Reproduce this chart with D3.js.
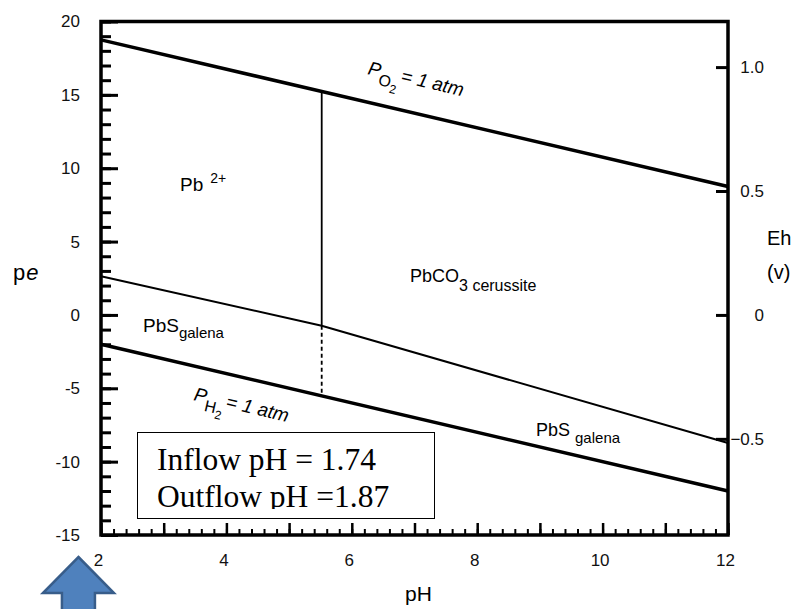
<!DOCTYPE html>
<html>
<head>
<meta charset="utf-8">
<script src="https://cdn.jsdelivr.net/npm/d3@7"></script>
<style>
  body { margin: 0; background: #fff; }
  svg { display: block; font-family: "Liberation Sans", Arial, sans-serif; }
</style>
</head>
<body>
<svg width="798" height="609"></svg>
<script>
// values for lead (Pb-S-C-O-H system)
var pHTicks = [2, 4, 6, 8, 10, 12];
var peTicks = [-15, -10, -5, 0, 5, 10, 15, 20];
var ehTicks = [-0.5, 0, 0.5, 1.0];

// water stability limits
var o2PH = [2, 12];
var o2Pe = [18.75, 8.75];
var h2PH = [2, 12];
var h2Pe = [-2, -12];

// galena boundary (bends where it meets the Pb2+ / cerussite line)
var galenaPH = [2, 5.52, 12];
var galenaPe = [2.64, -0.74, -8.73];

// Pb2+ / PbCO3 boundary: solid above galena line, dashed below
var cerussitePH = 5.52;
var cerussitePe = [15.23, -0.74, -5.52];

var noteLines = ["Inflow pH = 1.74", "Outflow pH =1.87"];
var arrowPH = 1.64;
var ehPerPe = 0.0592;

// plot box in pixels (note: "top" is reserved on window, so use plot*)
var svg = d3.select("svg"),
  plotLeft = 101, plotRight = 728, plotTop = 21.5, plotBottom = 535;

var x = d3.scaleLinear().domain([2, 12]).range([plotLeft, plotRight]);
var y = d3.scaleLinear().domain([-15, 20]).range([plotBottom, plotTop]);
var yEh = d3.scaleLinear().domain([-15 * ehPerPe, 20 * ehPerPe]).range([plotBottom, plotTop]);

var line = d3.line()
  .x(function(d) { return x(d[0]); })
  .y(function(d) { return y(d[1]); });

// boundaries
svg.append("path")
  .datum(d3.zip(o2PH, o2Pe))
  .attr("d", line).attr("fill", "none").attr("stroke", "#000").attr("stroke-width", 3.5);
svg.append("path")
  .datum(d3.zip(h2PH, h2Pe))
  .attr("d", line).attr("fill", "none").attr("stroke", "#000").attr("stroke-width", 3.5);
svg.append("path")
  .datum(d3.zip(galenaPH, galenaPe))
  .attr("d", line).attr("fill", "none").attr("stroke", "#000").attr("stroke-width", 2);
svg.append("path")
  .datum([[cerussitePH, cerussitePe[0]], [cerussitePH, cerussitePe[1]]])
  .attr("d", line).attr("fill", "none").attr("stroke", "#000").attr("stroke-width", 1.8);
svg.append("path")
  .datum([[cerussitePH, cerussitePe[1]], [cerussitePH, cerussitePe[2]]])
  .attr("d", line).attr("fill", "none").attr("stroke", "#000").attr("stroke-width", 1.8)
  .attr("stroke-dasharray", "4,3");

// axes, ticks point inward
var tickFont = function(g) {
  g.select(".domain").remove();
  g.selectAll("line").attr("stroke", "#000").attr("stroke-width", 3);
  g.selectAll("text").attr("font-size", 17).attr("fill", "#111")
    .attr("font-family", "'Liberation Sans', Arial, sans-serif");
};

svg.append("g")
  .attr("transform", "translate(" + plotLeft + ",0)")
  .call(d3.axisLeft(y).tickValues(d3.range(-15, 21, 1)).tickSize(-10).tickFormat(""))
  .call(tickFont);
svg.append("g")
  .attr("transform", "translate(" + plotLeft + ",0)")
  .call(d3.axisLeft(y).tickValues(peTicks).tickSize(-17).tickPadding(21)
    .tickFormat(function(d) { return String(d); }))
  .call(tickFont);

svg.append("g")
  .attr("transform", "translate(0," + plotBottom + ")")
  .call(d3.axisBottom(x).tickValues(d3.range(2, 12.01, 0.2)).tickSize(-6).tickFormat(""))
  .call(tickFont)
  .selectAll("line").attr("stroke-width", 2);
svg.append("g")
  .attr("transform", "translate(0," + plotBottom + ")")
  .call(d3.axisBottom(x).tickValues(d3.range(2, 13, 1)).tickSize(-12).tickFormat(""))
  .call(tickFont)
  .selectAll("line").attr("stroke-width", 2.5);
svg.append("g")
  .attr("transform", "translate(-3," + plotBottom + ")")
  .call(d3.axisBottom(x).tickValues(pHTicks).tickSize(0).tickPadding(19))
  .call(tickFont);

svg.append("g")
  .attr("transform", "translate(" + plotRight + ",0)")
  .call(d3.axisRight(yEh).tickValues(ehTicks).tickSize(-12)
    .tickFormat(function(d) { return d === 0 ? "0" : (d < 0 ? "\u2212" : "") + Math.abs(d).toFixed(1); }))
  .call(tickFont)
  .selectAll("text").attr("text-anchor", "end").attr("x", 36);

// frame: left, bottom, right and top
svg.append("path")
  .attr("d", "M" + plotLeft + "," + plotTop + "V" + plotBottom + "H" + plotRight + "V" + plotTop + "Z")
  .attr("fill", "none").attr("stroke", "#000").attr("stroke-width", 3.5);

// axis titles
svg.append("text").attr("x", 13).attr("y", 280).attr("font-size", 22).attr("letter-spacing", 1)
  .html('p<tspan font-style="italic">e</tspan>');
svg.append("text").attr("x", 405).attr("y", 601).attr("font-size", 21).text("pH");
svg.append("text").attr("x", 767).attr("y", 245).attr("font-size", 20).text("Eh");
svg.append("text").attr("x", 767).attr("y", 279).attr("font-size", 20).text("(v)");

// field labels
var pb = svg.append("text").attr("x", 180).attr("y", 191).attr("font-size", 19);
pb.append("tspan").text("Pb");
pb.append("tspan").attr("dx", 7).attr("dy", -8).attr("font-size", 14).text("2+");

var galL = svg.append("text").attr("x", 143).attr("y", 332).attr("font-size", 19);
galL.append("tspan").text("PbS");
galL.append("tspan").attr("dy", 6).attr("font-size", 15).text("galena");

var galR = svg.append("text").attr("x", 536).attr("y", 436).attr("font-size", 18);
galR.append("tspan").text("PbS ");
galR.append("tspan").attr("dy", 7).attr("font-size", 15).text("galena");

var cer = svg.append("text").attr("x", 410).attr("y", 282).attr("font-size", 18);
cer.append("tspan").text("PbCO");
cer.append("tspan").attr("dy", 9).attr("font-size", 16).text("3 cerussite");

// gas labels follow the slope of their lines
var angle = Math.atan2(y(o2Pe[1]) - y(o2Pe[0]), x(o2PH[1]) - x(o2PH[0])) * 180 / Math.PI;

function gasLabel(px, py, gas) {
  var t = svg.append("text")
    .attr("transform", "translate(" + px + "," + py + ") rotate(" + angle + ")")
    .attr("font-size", 19).attr("font-style", "italic");
  t.append("tspan").text("P");
  t.append("tspan").attr("dy", 8).attr("font-size", 16).attr("font-style", "normal").text(gas);
  t.append("tspan").attr("dy", 5).attr("font-size", 12).attr("font-style", "normal").text("2");
  t.append("tspan").attr("dy", -13).attr("dx", 2).text("= 1 atm");
}
gasLabel(367, 74, "O");
gasLabel(193, 400, "H");

// note box with its clipped second line
svg.append("clipPath").attr("id", "noteClip")
  .append("rect").attr("x", 137).attr("y", 432).attr("width", 298).attr("height", 77);
svg.append("rect")
  .attr("x", 137.5).attr("y", 432.5).attr("width", 297).attr("height", 86)
  .attr("fill", "#fff").attr("stroke", "#000").attr("stroke-width", 1);
svg.append("g").attr("clip-path", "url(#noteClip)")
  .selectAll("text").data(noteLines).enter().append("text")
  .attr("x", 157)
  .attr("y", function(d, i) { return 470 + i * 37; })
  .attr("font-family", "'Liberation Serif', 'Times New Roman', serif")
  .attr("font-size", 31.5)
  .text(function(d) { return d; });

// block arrow pointing at the inflow pH
var ax = x(arrowPH);
svg.append("path")
  .attr("d", "M" + ax + ",557 L" + (ax + 35.5) + ",593 L" + (ax + 16.5) + ",593 L" + (ax + 16.5) + ",615" +
    " L" + (ax - 16.5) + ",615 L" + (ax - 16.5) + ",593 L" + (ax - 35.5) + ",593 Z")
  .attr("fill", "#4f81bd").attr("stroke", "#385d8a").attr("stroke-width", 2.5);
</script>
</body>
</html>
